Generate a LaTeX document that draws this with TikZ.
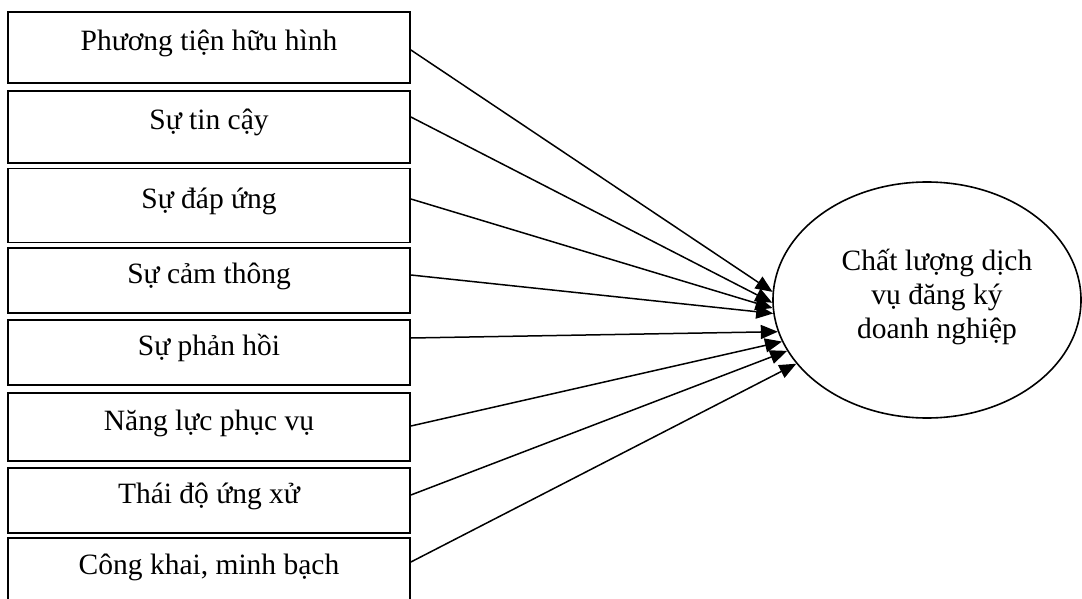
\documentclass[tikz,border=0pt]{standalone}
\usepackage{fontspec}
\setmainfont{Liberation Serif}
\usetikzlibrary{arrows.meta,shapes.geometric}
\begin{document}
\begin{tikzpicture}[x=1pt,y=-1pt,
  factor/.style={draw=black,line width=1.8pt,minimum width=402pt,inner sep=0pt,
    text height=20pt,text depth=14pt,font=\fontsize{29.5}{34}\selectfont},
  link/.style={line width=1.5pt,-{Triangle[length=17pt,width=14pt]}}]
\clip (0,0) rectangle (1082,599);
\fill[white] (0,0) rectangle (1082,599);
\node[factor,minimum height=71pt] (b1) at (209,47.5) {Phương tiện hữu hình};
\node[factor,minimum height=72pt] (b2) at (209,127) {Sự tin cậy};
\node[factor,minimum height=74pt] (b3) at (209,205.5) {Sự đáp ứng};
\node[factor,minimum height=65pt] (b4) at (209,280.5) {Sự cảm thông};
\node[factor,minimum height=65pt] (b5) at (209,352.5) {Sự phản hồi};
\node[factor,minimum height=68pt] (b6) at (209,427) {Năng lực phục vụ};
\node[factor,minimum height=65pt] (b7) at (209,500.5) {Thái độ ứng xử};
\node[factor,minimum height=66pt] (b8) at (209,571) {Công khai, minh bạch};
\node[draw=black,line width=1.6pt,ellipse,minimum width=308pt,minimum height=236pt,inner sep=0pt] (e) at (927,300) {};
\node[anchor=base,inner sep=0pt,font=\fontsize{29.5}{34}\selectfont] (et) at (937,270)
  {\begin{tabular}[t]{@{}c@{}}Chất lượng dịch\\vụ đăng ký\\doanh nghiệp\end{tabular}};
\draw[link] ([yshift=-2.5pt]b1.east) -- (e.177.4);
\draw[link] ([yshift=10pt]b2.east) -- (e.181.1);
\draw[link] ([yshift=6.5pt]b3.east) -- (e.183.7);
\draw[link] ([yshift=5.5pt]b4.east) -- (e.185.2);
\draw[link] ([yshift=14.5pt]b5.east) -- (e.192.1);
\draw[link] ([yshift=1pt]b6.east) -- (e.196.2);
\draw[link] ([yshift=5.5pt]b7.east) -- (e.200.5);
\draw[link] ([yshift=9pt]b8.east) -- (e.206);
\end{tikzpicture}
\end{document}
